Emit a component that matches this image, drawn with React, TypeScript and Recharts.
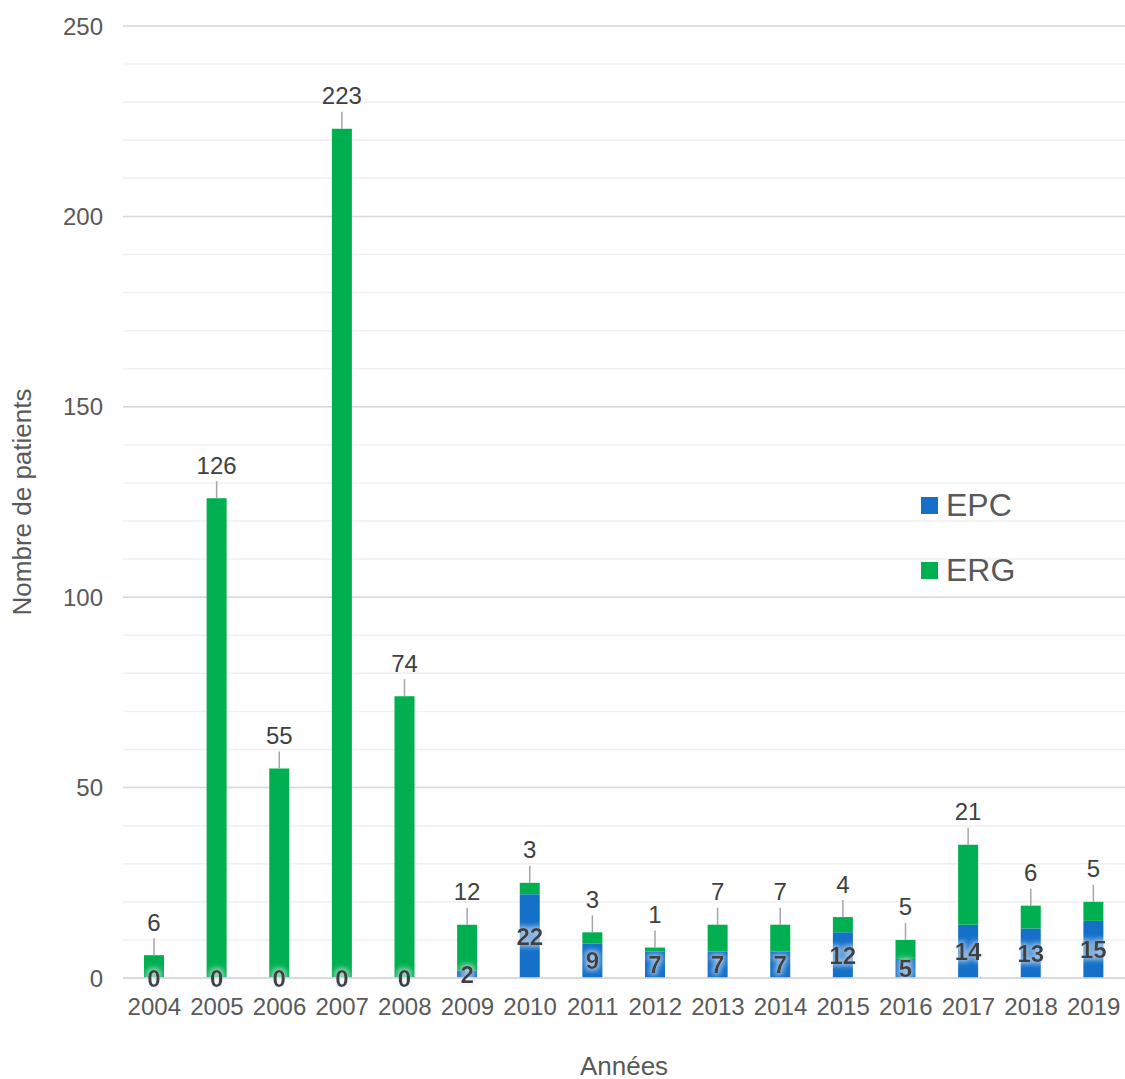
import React from "react";
import {
  BarChart,
  Bar,
  XAxis,
  YAxis,
  CartesianGrid,
  LabelList,
} from "recharts";

const years = ["2004", "2005", "2006", "2007", "2008", "2009", "2010", "2011", "2012", "2013", "2014", "2015", "2016", "2017", "2018", "2019"];
const epc = [0, 0, 0, 0, 0, 2, 22, 9, 7, 7, 7, 12, 5, 14, 13, 15];
const erg = [6, 126, 55, 223, 74, 12, 3, 3, 1, 7, 7, 4, 5, 21, 6, 5];
const yTicks = [0, 10, 20, 30, 40, 50, 60, 70, 80, 90, 100, 110, 120, 130, 140, 150, 160, 170, 180, 190, 200, 210, 220, 230, 240, 250];
const majorTicks = [0, 50, 100, 150, 200, 250];

const data = years.map((y, i) => ({ year: y, EPC: epc[i], ERG: erg[i] }));

const FONT = "'Liberation Sans', Arial, sans-serif";
const BLUE = "#1570c8";
const GREEN = "#00b050";
const TEXT = "#595959";

const YTick = (props: any) => {
  const { x, y, payload } = props;
  if (payload.value % 50 !== 0) return null;
  return (
    <text x={x} y={y} dy="0.355em" textAnchor="end" fill={TEXT} fontSize={24} fontFamily={FONT}>
      {payload.value}
    </text>
  );
};

const ErgLabel = (props: any) => {
  const { x, y, width, value } = props;
  const cx = x + width / 2;
  return (
    <g>
      <line x1={cx} x2={cx} y1={y - 17} y2={y} stroke="#a6a6a6" strokeWidth={1.5} />
      <text x={cx} y={y - 33} dy="0.355em" textAnchor="middle" fill="#404040" fontSize={24} fontFamily={FONT}>
        {value}
      </text>
    </g>
  );
};

// EPC labels are drawn from the ERG segment so that zero-height EPC bars still get their label
const EpcLabel = (props: any) => {
  const { x, y, width, height, index } = props;
  const perUnit = height / erg[index];
  const base = y + height;
  const cy = base + (epc[index] * perUnit) / 2;
  return (
    <text
      x={x + width / 2}
      y={cy}
      dy="0.355em"
      textAnchor="middle"
      fill="#404040"
      fontSize={24}
      fontWeight="bold"
      fontFamily={FONT}
      filter="url(#glow)"
    >
      {epc[index]}
    </text>
  );
};

export default function App() {
  return (
    <div style={{ position: "relative", width: 1125, height: 1079, fontFamily: FONT }}>
      <style>{`body{margin:0}`}</style>
      <svg width={0} height={0} style={{ position: "absolute" }}>
        <defs>
          <filter id="glow" x="-50%" y="-50%" width="200%" height="200%">
            <feMorphology in="SourceAlpha" operator="dilate" radius="1.5" result="d" />
            <feGaussianBlur in="d" stdDeviation="2.5" result="b" />
            <feFlood floodColor="#e8f0fa" floodOpacity="0.6" />
            <feComposite in2="b" operator="in" result="g" />
            <feMerge>
              <feMergeNode in="g" />
              <feMergeNode in="SourceGraphic" />
            </feMerge>
          </filter>
        </defs>
      </svg>
      <BarChart width={1125} height={1079} data={data} margin={{ top: 26, right: 0, bottom: 0, left: 0 }}>
        <CartesianGrid vertical={false} stroke="#f0f0f0" strokeWidth={1.5} />
        <CartesianGrid vertical={false} horizontalValues={majorTicks} stroke="#d9d9d9" strokeWidth={1.5} />
        <XAxis
          dataKey="year"
          axisLine={{ stroke: "#d9d9d9", strokeWidth: 1.5 }}
          tickLine={false}
          tickSize={0}
          tickMargin={20}
          height={101}
          interval={0}
          tick={{ fill: TEXT, fontSize: 24, fontFamily: FONT }}
          label={{
            content: ({ viewBox }: any) => (
              <text x={viewBox.x + viewBox.width / 2} y={1066} dy="0.355em" textAnchor="middle" fill={TEXT} fontSize={26} fontFamily={FONT}>
                Années
              </text>
            ),
          }}
        />
        <YAxis
          domain={[0, 250]}
          ticks={yTicks}
          interval={0}
          width={123}
          axisLine={false}
          tickLine={false}
          tickSize={0}
          tickMargin={20}
          tick={<YTick />}
          label={{
            content: ({ viewBox }: any) => {
              const cy = viewBox.y + viewBox.height / 2;
              return (
                <text x={31} y={cy} transform={`rotate(-90 31 ${cy})`} textAnchor="middle" fill={TEXT} fontSize={26} fontFamily={FONT}>
                  Nombre de patients
                </text>
              );
            },
          }}
        />
        <Bar dataKey="EPC" stackId="a" fill={BLUE} barSize={20} isAnimationActive={false} />
        <Bar dataKey="ERG" stackId="a" fill={GREEN} barSize={20} isAnimationActive={false}>
          <LabelList dataKey="EPC" content={<EpcLabel />} />
          <LabelList dataKey="ERG" content={<ErgLabel />} />
        </Bar>
      </BarChart>
      <div style={{ position: "absolute", left: 921, top: 486, color: TEXT, fontSize: 32 }}>
        <div style={{ display: "flex", alignItems: "center", height: 38, marginBottom: 27 }}>
          <span style={{ width: 17, height: 17, background: BLUE, marginRight: 8, display: "inline-block" }} />
          EPC
        </div>
        <div style={{ display: "flex", alignItems: "center", height: 38 }}>
          <span style={{ width: 17, height: 17, background: GREEN, marginRight: 8, display: "inline-block" }} />
          ERG
        </div>
      </div>
    </div>
  );
}
